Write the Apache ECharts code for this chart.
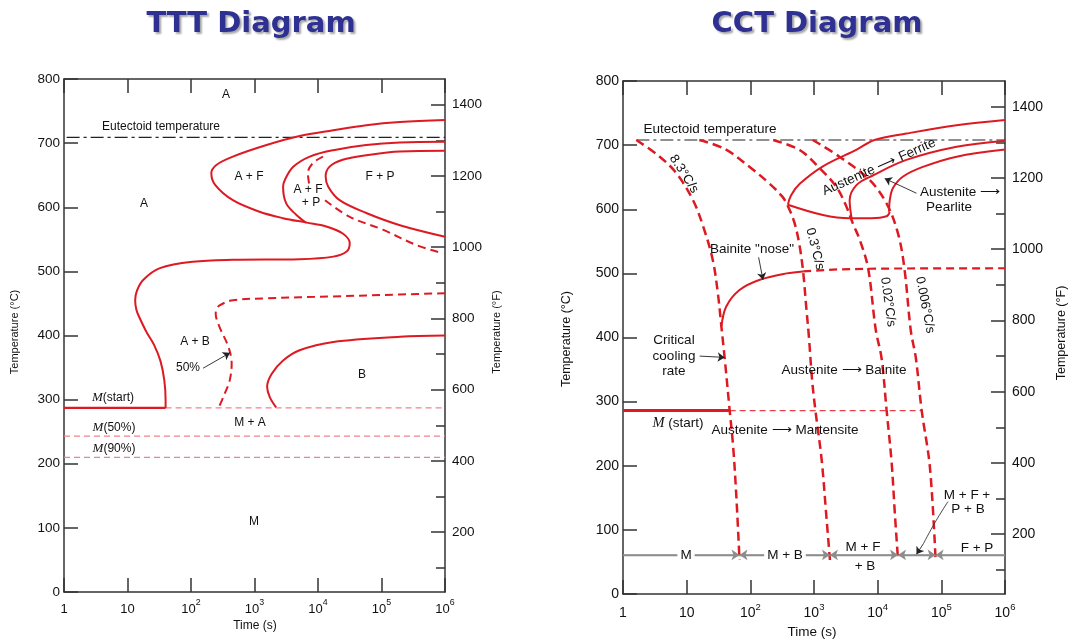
<!DOCTYPE html>
<html><head><meta charset="utf-8">
<script src="https://cdn.jsdelivr.net/npm/echarts@6/dist/echarts.min.js"></script>
<style>html,body{margin:0;padding:0;background:#fff}#c{width:1073px;height:643px}</style>
</head><body><div id="c"></div>
<script>
// ---------- DATA : [time (s), temperature (°C)] ----------
// TTT diagram
const tttEutectoid = [[1.1,709],[1e6,709]];
const tttFerriteStart = [[1e6,736],[195000,733],[57500,728],[17400,720],[5130,711],[1550,697],[457,679],[251,666],[209,653],[240,635],[457,611],[1200,593],[2820,583],[6610,576],[13500,570],[24500,559],[31600,544],[28200,531],[17400,523],[5130,519],[457,518],[107,515],[32.4,505],[17.8,487],[14.1,470],[13.2,455],[13.8,440],[15.1,430],[20,405],[26.3,385],[33.1,360],[38,330],[39.8,300],[39.8,287]];
const tttFerriteEnd = [[1e6,702],[195000,701],[57500,697],[17400,689],[7410,679],[4070,663],[3020,643],[2820,632],[3160,606],[4570,588],[6460,576]];
const tttPearlite50a = [[12000,679],[8320,669],[6920,653],[7240,637]];
const tttPearlite50b = [[12900,611],[31600,585],[105000,565],[355000,541],[933000,528]];
const tttPearliteEnd = [[1e6,688],[195000,687],[57500,681],[24500,674],[15100,663],[13200,648],[14500,632],[21900,611],[57500,591],[195000,572],[1e6,554]];
const tttBainite50 = [[1e6,466],[195000,464],[17400,461],[1550,458],[457,455],[282,447],[251,440],[245,434],[282,413],[389,382],[437,356],[407,330],[339,309],[275,288]];
const tttBainiteEnd = [[1e6,400],[195000,398],[17400,390],[5130,377],[2820,361],[1860,340],[1580,320],[1740,304],[2190,288]];
const tttMstartSolid = [[1,287],[39.8,287]];
const tttMstartDash = [[39.8,287],[1e6,287]];
const tttM50 = [[1,243],[1e6,243]];
const tttM90 = [[1,210],[1e6,210]];
const tttArrow50 = [[155,349],[411,373]];

// CCT diagram
const cctEutectoid = [[1.62,708],[1e6,708]];
const cctRate83 = [[1.62,708],[3.77,682],[6.92,656],[12.6,614],[18.2,573],[25.7,521],[30.9,469],[35.1,417],[39.8,365],[47.3,287],[53.7,230],[60.3,152],[67.6,53]];
const cctRate03 = [[15.8,708],[39.8,694],[100,665],[200,640],[316,620],[380,607],[490,580],[589,545],[676,502],[759,445],[832,401],[933,334],[1050,287],[1320,209],[1550,126],[1780,53]];
const cctRate002 = [[229,708],[603,692],[1230,664],[2240,635],[3240,604],[4070,578],[5250,552],[7080,508],[9330,412],[11500,368],[13800,287],[16600,204],[18600,126],[20900,53]];
const cctRate0006 = [[955,708],[2510,682],[7410,646],[13800,609],[20900,562],[26300,508],[33100,411],[39800,368],[49000,287],[66100,198],[81300,53]];
const cctFerriteStart = [[1e6,739],[174000,731],[28200,718],[8910,708],[4680,693],[1380,667],[603,640],[437,622],[389,607]];
const cctLowerBound = [[389,607],[1380,591],[3630,586],[7940,586],[13800,589],[15500,596]];
const cctPearliteStart = [[1e6,707],[174000,697.5],[28200,677],[8510,653],[4680,638],[3630,614],[3890,586]];
const cctPearliteEnd = [[1e6,693],[174000,682],[51300,666],[25100,651],[17400,633],[15500,614],[15100,596]];
const cctBainiteNose = [[35.1,417],[41.7,448],[67.6,474],[141,490],[372,500],[676,503]];
const cctBainiteDash = [[676,503],[2000,506],[10000,507.5],[1e6,508]];
const cctMstartSolid = [[1,286],[47.3,286]];
const cctMstartDash = [[47.3,286],[49000,286]];
const cctBaseLine = [[1,61],[1e6,61]];
const cctCurveEnds = [67.6, 1780, 20900, 81300];   // times where the cooling curves meet the base line
const cctArrowNose = [[135,525],[158,490]];
const cctArrowCritical = [[16,371],[39.5,369]];
const cctArrowPearlite = [[40700,625],[12900,648]];
const cctArrowMix = [[127000,144],[80000,112],[52000,78]];
const cctArrowMixHead = [[52000,78],[40700,62]];

// tick values
const fTicksMajor = [200,400,600,800,1000,1200,1400];
const fTicksMinor = [100,300,500,700,900,1100,1300];

// ---------- CHART ----------
const FONT = 'Liberation Sans, Arial, Helvetica, sans-serif';
const RED = '#dd1a22';
const PINK = '#f2808d';
const AX = '#333';

const chart = echarts.init(document.getElementById('c'), null, {renderer:'canvas'});

function xAxesFor(g, fs, margin) {
  const fmt = v => {
    const e = Math.round(Math.log10(v));
    if (e === 0) return '{n|1}';
    if (e === 1) return '{n|10}';
    return '{n|10}{s|' + e + '}';
  };
  const common = {type:'log', logBase:10, min:1, max:1e6, gridIndex:g, splitNumber:6,
    axisLine:{show:true, onZero:false, lineStyle:{color:AX, width:1.5}},
    axisTick:{show:true, inside:true, length:14, lineStyle:{color:AX, width:1.5}},
    splitLine:{show:false}, minorTick:{show:false}, minorSplitLine:{show:false}};
  return [
    Object.assign({}, common, {position:'bottom',
      axisLabel:{show:true, margin:margin, showMinLabel:true, showMaxLabel:true, formatter:fmt,
        rich:{n:{fontSize:fs, fontFamily:FONT, color:'#111', lineHeight:18, verticalAlign:'bottom'},
              s:{fontSize:fs*0.68, fontFamily:FONT, color:'#111', lineHeight:18, verticalAlign:'top'}}}}),
    Object.assign({}, common, {position:'top', axisLabel:{show:false}})
  ];
}
function yAxesFor(g, fs) {
  return [
    {type:'value', gridIndex:g, position:'left', min:0, max:800, interval:100,
     axisLine:{show:true, onZero:false, lineStyle:{color:AX, width:1.5}},
     axisTick:{inside:true, length:14, lineStyle:{color:AX, width:1.5}},
     axisLabel:{fontSize:fs, fontFamily:FONT, color:'#111', margin:4, formatter:v => String(v)},
     splitLine:{show:false}},
    {type:'value', gridIndex:g, position:'right', min:32, max:1472,
     axisLine:{show:true, onZero:false, lineStyle:{color:AX, width:1.5}},
     axisTick:{inside:true, length:14, customValues:fTicksMajor, lineStyle:{color:AX, width:1.5}},
     axisLabel:{fontSize:fs, fontFamily:FONT, color:'#111', margin:7, customValues:fTicksMajor,
       formatter:v => String(Math.round(v))},
     splitLine:{show:false}},
    {type:'value', gridIndex:g, position:'right', min:32, max:1472,
     axisLine:{show:false},
     axisTick:{inside:true, length:9, customValues:fTicksMinor, lineStyle:{color:AX, width:1.5}},
     axisLabel:{show:false},
     splitLine:{show:false}}
  ];
}

function ln(g, data, color, width, type, smooth) {
  return {type:'line', xAxisIndex: g ? 2 : 0, yAxisIndex: g ? 3 : 0, data: data,
    symbol:'none', showSymbol:false, silent:true, animation:false, clip:true,
    smooth: smooth === undefined ? 0.35 : smooth,
    lineStyle:{color:color, width:width, type:type || 'solid', cap:'butt'}, z:3};
}
function arrows(g, list, color, width, size) {
  return {type:'line', xAxisIndex: g ? 2 : 0, yAxisIndex: g ? 3 : 0, data:[], silent:true, animation:false,
    markLine:{silent:true, animation:false, symbol:['none','arrow'], symbolSize:size || 7, precision:6,
      label:{show:false}, lineStyle:{color:color || '#222', width:width || 0.9, type:'solid'},
      emphasis:{disabled:true},
      data: list}};
}
const seg = a => [{coord:a[0]},{coord:a[1]}];

const DASH = [8,5];
const series = [
  ln(0, tttEutectoid, '#222', 1.2, [13,4,3,4], false),
  ln(0, tttMstartDash, PINK, 1.3, [6,4], false),
  ln(0, tttM50, PINK, 1.3, [6,4], false),
  ln(0, tttM90, PINK, 1.3, [6,4], false),
  ln(0, tttFerriteStart, RED, 2),
  ln(0, tttFerriteEnd, RED, 2),
  ln(0, tttPearlite50a, RED, 2, DASH),
  ln(0, tttPearlite50b, RED, 2, DASH),
  ln(0, tttPearliteEnd, RED, 2),
  ln(0, tttBainite50, RED, 2, DASH),
  ln(0, tttBainiteEnd, RED, 2),
  ln(0, tttMstartSolid, RED, 2.2, 'solid', false),
  arrows(0, [seg(tttArrow50)], '#222', 0.9, 7),

  ln(1, cctEutectoid, '#222', 1.2, [13,4,3,4], false),
  ln(1, cctBaseLine, '#8c8c8c', 1.3, 'solid', false),
  ln(1, cctMstartDash, '#e8414b', 1.1, [6,4], false),
  ln(1, cctFerriteStart, RED, 2),
  ln(1, cctLowerBound, RED, 2),
  ln(1, cctPearliteStart, RED, 2),
  ln(1, cctPearliteEnd, RED, 2),
  ln(1, cctBainiteNose, RED, 2),
  ln(1, cctBainiteDash, RED, 2.2, DASH, false),
  ln(1, cctRate83, RED, 2.5, [9,5]),
  ln(1, cctRate03, RED, 2.5, [9,5]),
  ln(1, cctRate002, RED, 2.5, [9,5]),
  ln(1, cctRate0006, RED, 2.5, [9,5]),
  ln(1, cctMstartSolid, RED, 3, 'solid', false),
  ln(1, cctArrowMix, '#333', 0.9, 'solid', 0.4),
  arrows(1, [seg(cctArrowNose), seg(cctArrowCritical), seg(cctArrowPearlite), seg(cctArrowMixHead)], '#222', 0.9, 7),
  arrows(1, [
    [{coord:[1,61], symbol:'none'}, {coord:[cctCurveEnds[0],61], symbol:'arrow'}],
    [{coord:[cctCurveEnds[0],61], symbol:'arrow'}, {coord:[cctCurveEnds[1],61], symbol:'arrow'}],
    [{coord:[cctCurveEnds[1],61], symbol:'arrow'}, {coord:[cctCurveEnds[2],61], symbol:'arrow'}],
    [{coord:[cctCurveEnds[2],61], symbol:'arrow'}, {coord:[cctCurveEnds[3],61], symbol:'arrow'}],
    [{coord:[cctCurveEnds[3],61], symbol:'arrow'}, {coord:[1e6,61], symbol:'none'}]
  ], '#8c8c8c', 1.3, 8)
];

// ---------- TEXT ANNOTATIONS ----------
function T(x, y, text, fs, o) {
  o = o || {};
  const st = {text:text, fontSize:fs, fontFamily:o.font || FONT, fill:o.fill || '#111',
    align:o.align || 'center', verticalAlign:'middle'};
  if (o.bg) { st.backgroundColor = '#fff'; st.padding = [1,3]; }
  if (o.rich) st.rich = o.rich;
  if (o.weight) st.fontWeight = o.weight;
  return {type:'text', x:x, y:y, rotation:(o.rot || 0) * Math.PI / 180, silent:true, z:50, style:st};
}
const itM = fs => ({i:{fontFamily:'Liberation Serif, Times New Roman, serif', fontStyle:'italic', fontSize:fs + 1, fill:'#111'}});
const ARW = ' \u27F6 ';
const titleStyle = txt => ({text:txt, fontSize:29, fontWeight:'bold',
    fontFamily:'DejaVu Sans, Verdana, sans-serif', fill:'#2e3192', align:'center', verticalAlign:'middle',
    textShadowColor:'rgba(0,0,0,0.35)', textShadowBlur:2, textShadowOffsetX:2, textShadowOffsetY:2});
const graphics = [
  // titles
  {type:'text', x:251, y:24, silent:true, z:60, style:titleStyle('TTT Diagram')},
  {type:'text', x:817, y:24, silent:true, z:60, style:titleStyle('CCT Diagram')},
  // TTT axis names
  T(15, 332, 'Temperature (\u00B0C)', 11, {rot:90}),
  T(497, 332, 'Temperature (\u00B0F)', 11, {rot:90}),
  T(255, 626, 'Time (s)', 12),
  // TTT labels
  T(161, 127, 'Eutectoid temperature', 12),
  T(226, 95, 'A', 12), T(144, 204, 'A', 12),
  T(249, 177, 'A + F', 12),
  T(308, 190, 'A + F', 12), T(311, 203, '+ P', 12),
  T(380, 177, 'F + P', 12),
  T(195, 342, 'A + B', 12),
  T(188, 368, '50%', 12),
  T(362, 375, 'B', 12),
  T(250, 423, 'M + A', 12),
  T(254, 522, 'M', 12),
  T(113, 398, '{i|M}(start)', 12, {rich:itM(12)}),
  T(114, 428, '{i|M}(50%)', 12, {rich:itM(12)}),
  T(114, 449, '{i|M}(90%)', 12, {rich:itM(12)}),
  // CCT axis names
  T(567, 339, 'Temperature (\u00B0C)', 12.5, {rot:90}),
  T(1062, 333, 'Temperature (\u00B0F)', 12.5, {rot:90}),
  T(812, 632, 'Time (s)', 13.5),
  // CCT labels
  T(710, 129, 'Eutectoid temperature', 13.5),
  T(684, 174, '8.3\u00B0C/s', 13, {rot:-57}),
  T(815, 249, '0.3\u00B0C/s', 13, {rot:-76}),
  T(888, 302, '0.02\u00B0C/s', 13, {rot:-82}),
  T(925, 305, '0.006\u00B0C/s', 13, {rot:-79}),
  T(879, 167, 'Austenite' + ARW + 'Ferrite', 13.5, {rot:24}),
  T(920, 192, 'Austenite' + ARW, 13.5, {align:'left'}),
  T(949, 207, 'Pearlite', 13.5),
  T(752, 249, 'Bainite "nose"', 13.5),
  T(674, 340, 'Critical', 13.5), T(674, 356, 'cooling', 13.5), T(674, 371, 'rate', 13.5),
  T(844, 370, 'Austenite' + ARW + 'Bainite', 13.5),
  T(678, 423, '{i|M} (start)', 13.5, {rich:itM(13.5)}),
  T(785, 430, 'Austenite' + ARW + 'Martensite', 13.5),
  T(686, 555, 'M', 13.5, {bg:true}),
  T(785, 555, 'M + B', 13.5, {bg:true}),
  T(863, 547, 'M + F', 13.5), T(865, 566, '+ B', 13.5),
  T(977, 548, 'F + P', 13.5),
  T(967, 495, 'M + F +', 13.5), T(968, 509, 'P + B', 13.5)
];

const option = {
  animation:false,
  backgroundColor:'#fff',
  grid:[
    {left:64, top:79, width:381, height:513, containLabel:false},
    {left:623, top:81, width:382, height:513, containLabel:false}
  ],
  xAxis:[].concat(xAxesFor(0, 13, 6), xAxesFor(1, 14, 8)),
  yAxis:[].concat(yAxesFor(0, 13.5), yAxesFor(1, 14)),
  series:series,
  graphic:{elements:graphics}
};
chart.setOption(option);
</script></body></html>
